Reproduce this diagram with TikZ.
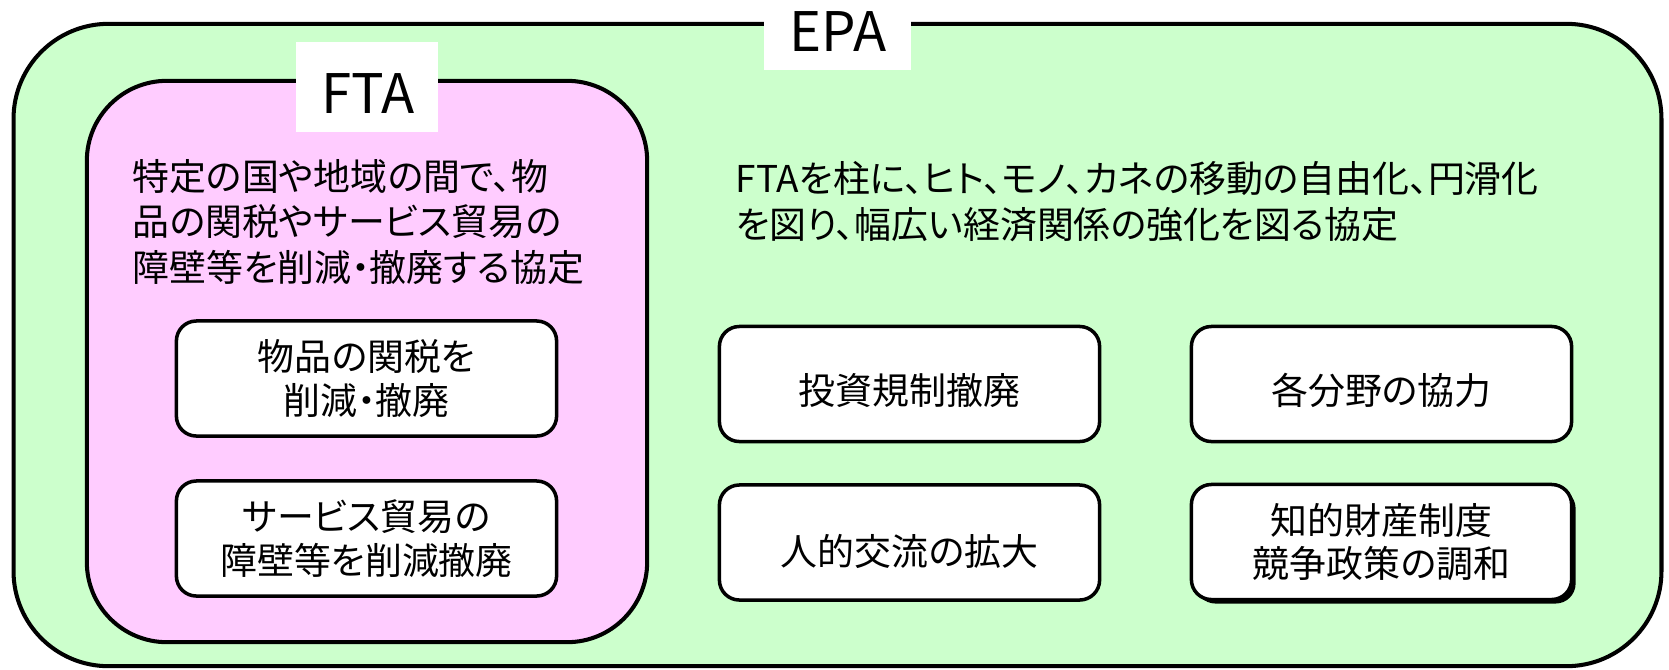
\documentclass[tikz,border=0pt]{standalone}
\usepackage{fontspec}
\setmainfont{Noto Sans CJK JP}[RawFeature={+palt}]
\usetikzlibrary{shadows}
\definecolor{epagreen}{HTML}{CCFFCC}
\definecolor{ftapink}{HTML}{FFCCFF}
\begin{document}
\begin{tikzpicture}[x=0.01cm,y=-0.01cm,
  bigbox/.style={draw=black, line width=1.15pt, rounded corners=#1, inner sep=0pt},
  itembox/.style={draw=black, fill=white, line width=1pt, rounded corners=0.2cm,
    minimum width=3.8cm, minimum height=1.15cm, inner sep=0pt, align=center,
    font=\fontsize{10.5pt}{12.5pt}\selectfont},
  itemtext/.style={font=\fontsize{10.5pt}{12.5pt}\selectfont, inner sep=0pt, anchor=base},
  tagbox/.style={fill=white, inner sep=0pt},
  titletext/.style={font=\fontsize{15.5pt}{15.5pt}\selectfont, inner sep=0pt, anchor=base},
  desctext/.style={font=\fontsize{10.5pt}{12.8pt}\selectfont, inner sep=0pt, anchor=base west, align=left}]
\useasboundingbox (0,0) rectangle (1669,669);
% outer EPA box
\node[bigbox=0.95cm, fill=epagreen, minimum width=16.47cm, minimum height=6.42cm] (epa) at (837.5,345) {};
\node[tagbox, minimum width=1.47cm, minimum height=0.9cm] (epatag) at (837.5,25) {};
\node[titletext] (epatitle) at (838,51) {EPA};
% inner FTA box
\node[bigbox=0.8cm, fill=ftapink, minimum width=5.6cm, minimum height=5.61cm] (fta) at (367,361.5) {};
\node[tagbox, minimum width=1.42cm, minimum height=0.9cm] (ftatag) at (367,87) {};
\node[titletext] (ftatitle) at (368,113) {FTA};
% descriptions (anchor = baseline of last line)
\node[desctext] (ftadesc) at (132,281) {特定の国や地域の間で、物\\品の関税やサービス貿易の\\障壁等を削減・撤廃する協定};
\node[desctext] (epadesc) at (735,238) {FTAを柱に、ヒト、モノ、カネの移動の自由化、円滑化\\を図り、幅広い経済関係の強化を図る協定};
% FTA items
\node[itembox] (f1) at (366.5,378.5) {物品の関税を\\削減・撤廃};
\node[itembox] (f2) at (366.5,538.5) {サービス貿易の\\障壁等を削減撤廃};
% EPA items
\node[itembox] (e1) at (909.5,384) {};
\node[itemtext] (e1t) at (909.5,404) {投資規制撤廃};
\node[itembox] (e2) at (1381.5,384) {};
\node[itemtext] (e2t) at (1381.5,404) {各分野の協力};
\node[itembox] (e3) at (909.5,542.5) {};
\node[itemtext] (e3t) at (909.5,565) {人的交流の拡大};
\node[itembox, drop shadow={shadow xshift=0.04cm, shadow yshift=-0.04cm, fill=black, opacity=1}] (e4) at (1381.5,542) {知的財産制度\\競争政策の調和};
\end{tikzpicture}
\end{document}
